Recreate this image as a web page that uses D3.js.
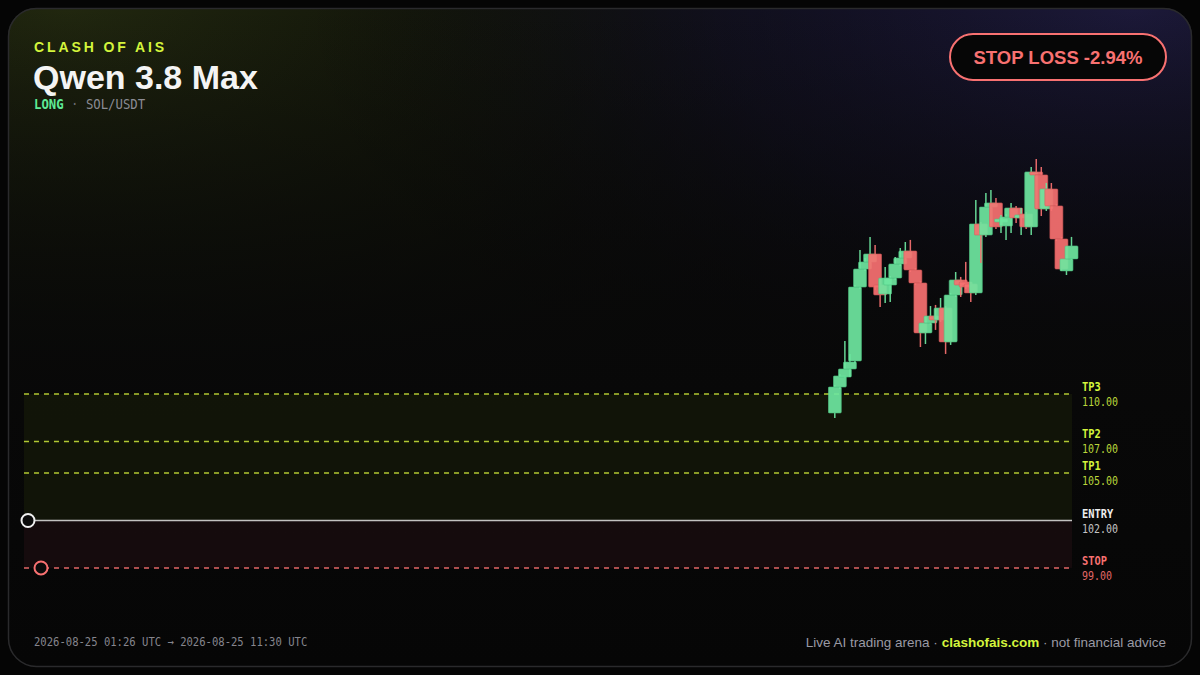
<!DOCTYPE html>
<html>
<head>
<meta charset="utf-8">
<script src="https://cdn.jsdelivr.net/npm/d3@7"></script>
<style>
  html, body { margin: 0; padding: 0; background: #050505; }
  svg { display: block; }
</style>
</head>
<body>
<svg id="chart" width="1200" height="675"></svg>
<script>
// ---- data ----
const brand = "CLASH OF AIS";
const modelName = "Qwen 3.8 Max";
const side = "LONG";
const pair = "SOL/USDT";
const badgeText = "STOP LOSS -2.94%";
const timeRange = "2026-08-25 01:26 UTC \u2192 2026-08-25 11:30 UTC";

const opens  = [108.80,110.44,111.07,111.58,112.09,116.76,117.90,118.35,118.85,116.89,116.32,116.89,117.33,118.22,118.60,119.04,117.84,117.02,113.86,114.49,114.93,114.68,115.44,113.29,116.26,117.21,117.08,116.95,116.39,120.75,120.05,121.82,122.08,120.87,120.62,121.19,121.76,121.13,121.38,120.56,124.04,123.85,121.70,122.96,121.89,119.80,117.78,118.54];
const highs  = [110.57,111.26,113.35,112.53,116.89,119.10,118.60,119.93,119.42,117.14,118.03,117.46,118.66,119.23,119.61,119.74,117.97,117.14,114.62,115.56,115.63,116.07,115.56,116.39,117.71,117.40,118.35,117.08,122.27,120.87,122.71,122.90,122.39,121.32,121.38,122.08,121.89,121.76,121.51,124.35,124.86,124.35,123.34,123.34,122.01,119.93,118.79,119.93];
const lows   = [108.48,110.32,111.01,111.07,111.96,116.64,117.78,118.22,116.58,115.50,115.75,115.82,117.21,118.09,118.47,117.71,116.89,112.97,113.16,114.36,114.05,114.55,112.53,113.10,116.13,116.13,116.64,115.82,116.26,118.28,119.93,121.70,120.43,120.18,119.74,120.18,120.81,120.05,120.43,120.05,123.72,121.25,121.57,121.57,119.67,117.78,117.52,118.47];
const closes = [110.44,111.14,111.58,112.02,116.76,117.90,118.35,118.85,116.76,116.26,117.33,117.33,118.22,118.60,119.04,117.84,117.02,113.86,114.49,114.93,114.68,115.44,113.29,116.26,117.21,116.89,116.76,116.39,120.75,120.05,121.82,122.08,120.56,121.06,121.19,121.76,121.13,121.32,120.56,124.04,123.85,121.70,122.96,121.89,119.80,117.90,118.54,119.36];

const levelNames  = ["TP3", "TP2", "TP1", "ENTRY", "STOP"];
const levelValues = [110, 107, 105, 102, 99];
const levelKinds  = ["tp", "tp", "tp", "entry", "stop"];

const footerParts = ["Live AI trading arena \u00b7 ", "clashofais.com", " \u00b7 not financial advice"];

// ---- drawing ----
const W = 1200, H = 675;
const svg = d3.select("#chart");
const defs = svg.append("defs");
const MONO = "'DejaVu Sans Mono', monospace";
const SANS = "'Liberation Sans', Arial, sans-serif";

const C = {
  lime: "#d4f53c", limeLine: "#cde83a", green: "#6ee7a0", red: "#f87171",
  long: "#5eea95"
};

// background gradients
const g1 = defs.append("radialGradient").attr("id", "bgGreen")
  .attr("cx", 0.05).attr("cy", 0.0).attr("r", 0.8);
g1.append("stop").attr("offset", "0%").attr("stop-color", "#21270f").attr("stop-opacity", 1);
g1.append("stop").attr("offset", "55%").attr("stop-color", "#151909").attr("stop-opacity", 0.55);
g1.append("stop").attr("offset", "100%").attr("stop-color", "#070707").attr("stop-opacity", 0);

const g2 = defs.append("radialGradient").attr("id", "bgPurple")
  .attr("cx", 0.95).attr("cy", 0.0).attr("r", 0.7);
g2.append("stop").attr("offset", "0%").attr("stop-color", "#1c1939").attr("stop-opacity", 1);
g2.append("stop").attr("offset", "50%").attr("stop-color", "#131129").attr("stop-opacity", 0.6);
g2.append("stop").attr("offset", "100%").attr("stop-color", "#070707").attr("stop-opacity", 0);

const fade = defs.append("linearGradient").attr("id", "bgFade").attr("x1", 0).attr("y1", 0).attr("x2", 0).attr("y2", 1);
fade.append("stop").attr("offset", "0%").attr("stop-color", "#080808").attr("stop-opacity", 0);
fade.append("stop").attr("offset", "55%").attr("stop-color", "#080808").attr("stop-opacity", 0.9);
fade.append("stop").attr("offset", "100%").attr("stop-color", "#060606").attr("stop-opacity", 1);

defs.append("clipPath").attr("id", "cardClip").append("rect")
  .attr("x", 8).attr("y", 8).attr("width", 1184).attr("height", 659).attr("rx", 28);

svg.append("rect").attr("width", W).attr("height", H).attr("fill", "#050505");
const card = svg.append("g").attr("clip-path", "url(#cardClip)");
["#0a0a0a", "url(#bgGreen)", "url(#bgPurple)", "url(#bgFade)"].forEach(f =>
  card.append("rect").attr("x", 8).attr("y", 8).attr("width", 1184).attr("height", 659).attr("fill", f));
svg.append("rect").attr("x", 8.5).attr("y", 8.5).attr("width", 1183).attr("height", 658).attr("rx", 28)
  .attr("fill", "none").attr("stroke", "#2a2a2c").attr("stroke-width", 1.5);

// scales
const plotLeft = 24, plotRight = 1072;
const n = opens.length;
const x = d3.scaleLinear().domain([-161, n - 1]).range([plotLeft, plotRight - 0.5]);
const y = d3.scaleLinear().domain([97, 126]).range([599.6, 140.9]);
const bodyW = 13;

// zones
const yTP3 = y(levelValues[0]), yEntry = y(levelValues[3]), yStop = y(levelValues[4]);
svg.append("rect").attr("x", plotLeft).attr("y", yTP3).attr("width", plotRight - plotLeft).attr("height", yEntry - yTP3)
  .attr("fill", "#1a1f0a").attr("opacity", 0.55);
svg.append("rect").attr("x", plotLeft).attr("y", yEntry).attr("width", plotRight - plotLeft).attr("height", yStop - yEntry)
  .attr("fill", "#1f0f12").attr("opacity", 0.6);

// level lines
const levels = levelNames.map((name, i) => ({ name, value: levelValues[i], kind: levelKinds[i] }));
const lineColor = k => k === "tp" ? C.limeLine : k === "entry" ? "#d6d6d6" : C.red;
svg.append("g").selectAll("line").data(levels).join("line")
  .attr("x1", plotLeft).attr("x2", plotRight)
  .attr("y1", d => y(d.value)).attr("y2", d => y(d.value))
  .attr("stroke", d => lineColor(d.kind))
  .attr("stroke-opacity", d => d.kind === "tp" ? 0.85 : 0.9)
  .attr("stroke-width", 1.5)
  .attr("stroke-dasharray", d => d.kind === "entry" ? null : "5,5");

// level labels (condensed mono look)
const lab = svg.append("g").attr("font-family", MONO);
lab.selectAll("text.name").data(levels).join("text").attr("class", "name")
  .attr("transform", d => `translate(1082,${y(d.value) - 3}) scale(0.88,1)`)
  .attr("font-size", 11.8).attr("font-weight", "bold")
  .attr("fill", d => d.kind === "tp" ? C.lime : d.kind === "entry" ? "#eeeeee" : C.red)
  .text(d => d.name);
lab.selectAll("text.val").data(levels).join("text").attr("class", "val")
  .attr("transform", d => `translate(1082,${y(d.value) + 12}) scale(0.875,1)`)
  .attr("font-size", 11.4)
  .attr("fill", d => d.kind === "tp" ? "#b9d63a" : d.kind === "entry" ? "#c4c4c4" : "#e06666")
  .text(d => d.value.toFixed(2));

// candles
const candles = opens.map((o, i) => ({ i, o, h: highs[i], l: lows[i], c: closes[i] }));
const cs = svg.append("g").selectAll("g").data(candles).join("g").attr("opacity", 0.92);
cs.append("line")
  .attr("x1", d => x(d.i)).attr("x2", d => x(d.i))
  .attr("y1", d => y(d.h)).attr("y2", d => y(d.l))
  .attr("stroke", d => d.c >= d.o ? C.green : C.red).attr("stroke-width", 1.5);
cs.append("rect")
  .attr("x", d => x(d.i) - bodyW / 2)
  .attr("y", d => y(Math.max(d.o, d.c)))
  .attr("width", bodyW)
  .attr("height", d => Math.max(1.5, Math.abs(y(d.o) - y(d.c))))
  .attr("rx", 1)
  .attr("fill", d => d.c >= d.o ? C.green : C.red)
  .attr("stroke", d => d.c >= d.o ? "#4fc784" : "#d85a5a").attr("stroke-width", 0.6);

// markers
svg.append("circle").attr("cx", 28).attr("cy", yEntry).attr("r", 6.5)
  .attr("fill", "#0b0b0b").attr("stroke", "#f0f0f0").attr("stroke-width", 2);
svg.append("circle").attr("cx", 41).attr("cy", yStop).attr("r", 6.5)
  .attr("fill", "#0b0b0b").attr("stroke", C.red).attr("stroke-width", 2);

// header
svg.append("text").attr("x", 34).attr("y", 52)
  .attr("font-family", SANS).attr("font-weight", "bold")
  .attr("font-size", 14).attr("letter-spacing", 2.9).attr("fill", C.lime).text(brand);
svg.append("text").attr("x", 33).attr("y", 89)
  .attr("font-family", SANS).attr("font-weight", "bold")
  .attr("font-size", 34).attr("fill", "#f4f4f4").text(modelName);
const sub = svg.append("text").attr("transform", "translate(34,109) scale(0.88,1)")
  .attr("font-family", MONO).attr("font-size", 14);
sub.append("tspan").attr("font-weight", "bold").attr("fill", C.long).text(side);
sub.append("tspan").attr("fill", "#6a6a72").text(" \u00b7 ");
sub.append("tspan").attr("fill", "#8c8c94").text(pair);

// badge
const badge = svg.append("g");
badge.append("rect").attr("x", 950).attr("y", 34).attr("width", 216).attr("height", 46).attr("rx", 23)
  .attr("fill", "#060606").attr("stroke", C.red).attr("stroke-width", 2);
badge.append("text").attr("x", 1058).attr("y", 64).attr("text-anchor", "middle")
  .attr("font-family", SANS).attr("font-weight", "bold")
  .attr("font-size", 18.5).attr("fill", C.red).text(badgeText);

// footer
svg.append("text").attr("transform", "translate(34,646) scale(0.88,1)")
  .attr("font-family", MONO).attr("font-size", 12)
  .attr("fill", "#85858d").text(timeRange);
const ft = svg.append("text").attr("x", 1166).attr("y", 647).attr("text-anchor", "end")
  .attr("font-family", SANS).attr("font-size", 13.5).attr("fill", "#9a9aa4");
ft.append("tspan").text(footerParts[0]);
ft.append("tspan").attr("font-weight", "bold").attr("fill", C.lime).text(footerParts[1]);
ft.append("tspan").text(footerParts[2]);
</script>
</body>
</html>
